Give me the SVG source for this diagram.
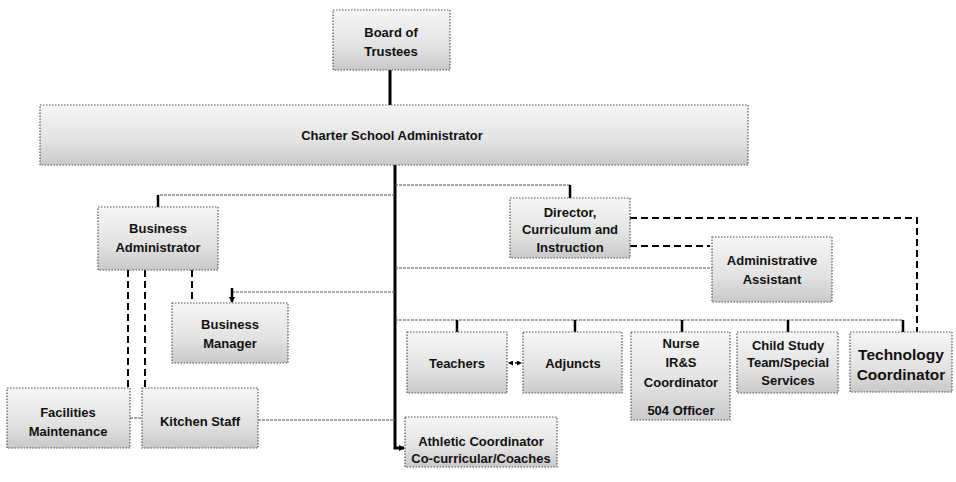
<svg xmlns="http://www.w3.org/2000/svg" width="956" height="482" viewBox="0 0 956 482">
<style>
.box{fill:url(#g);stroke:#555;stroke-width:1.2;stroke-dasharray:1.5 1.5}
.t{font-family:"Liberation Sans","DejaVu Sans",sans-serif;font-weight:bold;font-size:13px;fill:#111;text-anchor:middle}
.big{font-size:15.5px}
.thick{stroke:#000;stroke-width:3;fill:none}
.tick{stroke:#000;stroke-width:2.5;fill:none}
.thin{stroke:#555;stroke-width:1.2;fill:none;stroke-dasharray:3 1}
.dash{stroke:#000;stroke-width:2;fill:none;stroke-dasharray:7 4}
</style>
<defs>
<linearGradient id="g" x1="0" y1="0" x2="0" y2="1">
<stop offset="0" stop-color="#f6f6f6"/>
<stop offset="0.6" stop-color="#e2e2e2"/>
<stop offset="1" stop-color="#c9c9c9"/>
</linearGradient>
<marker id="ah" markerWidth="6" markerHeight="6" refX="5" refY="3" orient="auto" markerUnits="userSpaceOnUse">
<path d="M0,0 L6,3 L0,6 z" fill="#000"/>
</marker>
<marker id="ahs" markerWidth="5" markerHeight="5" refX="4" refY="2.5" orient="auto-start-reverse" markerUnits="userSpaceOnUse">
<path d="M0,0 L5,2.5 L0,5 z" fill="#000"/>
</marker>
</defs>
<rect width="956" height="482" fill="#fff"/>
<g id="connectors">
<path class="thick" d="M390,70 V105"/>
<path class="thick" d="M395,165 V448 H404" marker-end="url(#ah)"/>
<path class="thin" d="M395,195 H158"/>
<path class="tick" d="M158,195 V207"/>
<path class="thin" d="M395,185 H570"/>
<path class="tick" d="M570,185 V198"/>
<path class="thin" d="M395,268 H712"/>
<path class="thin" d="M395,292 H232"/>
<path class="tick" d="M232,288 V302" marker-end="url(#ah)"/>
<path class="thin" d="M395,320 H903"/>
<path class="tick" d="M457,320 V332 M575,320 V332 M682,320 V332 M788,320 V332 M903,320 V332"/>
<path class="thin" d="M258,420 H395"/>
<path class="dash" d="M630,218 H917 V332"/>
<path class="dash" d="M630,246 H710"/>
<path class="dash" d="M128,270 V390"/>
<path class="dash" d="M145,270 V388"/>
<path class="dash" d="M192,270 V303"/>
<path class="thin" d="M130,418 H142"/>
<path class="dash" style="stroke-width:1.5;stroke-dasharray:4 2" d="M509,363 H521" marker-start="url(#ahs)" marker-end="url(#ahs)"/>
</g>
<g id="board">
<rect class="box" x="333" y="10" width="117" height="60"/>
<text class="t" x="391" y="37">Board of</text>
<text class="t" x="391" y="56">Trustees</text>
</g>
<g id="charter">
<rect class="box" x="40" y="105" width="708" height="60"/>
<text class="t" x="392" y="140">Charter School Administrator</text>
</g>
<g id="business-admin">
<rect class="box" x="98" y="207" width="120" height="63"/>
<text class="t" x="158" y="233">Business</text>
<text class="t" x="158" y="252">Administrator</text>
</g>
<g id="director">
<rect class="box" x="510" y="198" width="120" height="60"/>
<text class="t" x="570" y="217">Director,</text>
<text class="t" x="570" y="234">Curriculum and</text>
<text class="t" x="570" y="252">Instruction</text>
</g>
<g id="admin-assistant">
<rect class="box" x="712" y="237" width="120" height="65"/>
<text class="t" x="772" y="265">Administrative</text>
<text class="t" x="772" y="284">Assistant</text>
</g>
<g id="business-manager">
<rect class="box" x="172" y="303" width="116" height="60"/>
<text class="t" x="230" y="329">Business</text>
<text class="t" x="230" y="348">Manager</text>
</g>
<g id="facilities">
<rect class="box" x="7" y="388" width="123" height="60"/>
<text class="t" x="68" y="417">Facilities</text>
<text class="t" x="68" y="436">Maintenance</text>
</g>
<g id="kitchen">
<rect class="box" x="142" y="388" width="116" height="60"/>
<text class="t" x="200" y="426">Kitchen Staff</text>
</g>
<g id="teachers">
<rect class="box" x="407" y="332" width="100" height="61"/>
<text class="t" x="457" y="368">Teachers</text>
</g>
<g id="adjuncts">
<rect class="box" x="523" y="332" width="99" height="61"/>
<text class="t" x="573" y="368">Adjuncts</text>
</g>
<g id="nurse">
<rect class="box" x="631" y="332" width="99" height="88"/>
<text class="t" x="681" y="348">Nurse</text>
<text class="t" x="681" y="367">IR&amp;S</text>
<text class="t" x="681" y="387">Coordinator</text>
<text class="t" x="681" y="415">504 Officer</text>
</g>
<g id="child-study">
<rect class="box" x="737" y="332" width="101" height="61"/>
<text class="t" x="788" y="350">Child Study</text>
<text class="t" x="788" y="367">Team/Special</text>
<text class="t" x="788" y="385">Services</text>
</g>
<g id="technology">
<rect class="box" x="850" y="332" width="102" height="60"/>
<text class="t big" x="901" y="360">Technology</text>
<text class="t big" x="901" y="380">Coordinator</text>
</g>
<g id="athletic">
<rect class="box" x="405" y="417" width="152" height="50"/>
<text class="t" x="481" y="446">Athletic Coordinator</text>
<text class="t" x="481" y="463">Co-curricular/Coaches</text>
</g>
</svg>
